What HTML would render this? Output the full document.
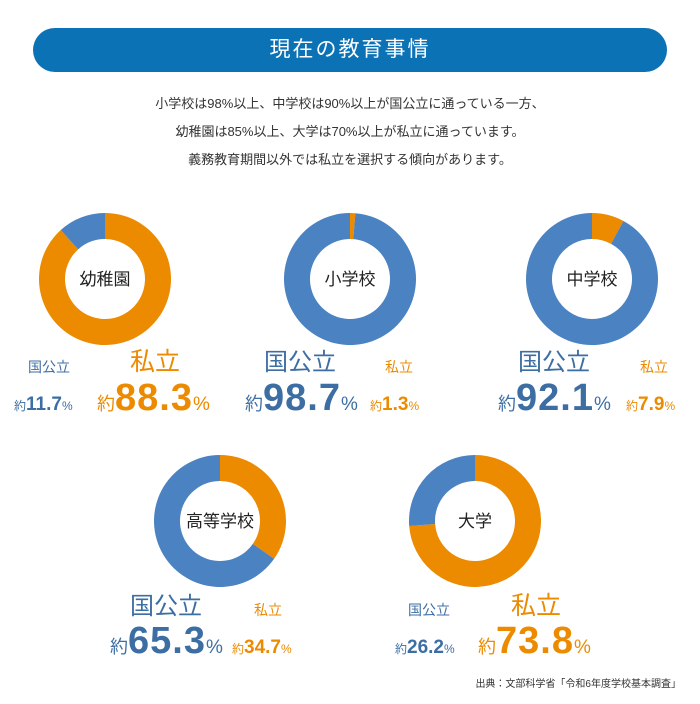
<!DOCTYPE html>
<html><head><meta charset="utf-8"><style>
html,body{margin:0;padding:0;background:#fff;}
body{width:700px;height:704px;position:relative;overflow:hidden;font-family:"Liberation Sans","Noto Sans CJK JP",sans-serif;}
#title{position:absolute;left:33px;top:28px;width:634px;height:44px;border-radius:22px;background:#0b72b5;color:#fff;font-size:21px;line-height:44px;text-align:center;letter-spacing:2px;}
#intro{position:absolute;left:0;top:90px;width:700px;text-align:center;font-size:13px;line-height:28px;color:#333;}
svg{position:absolute;left:0;top:0;}
</style></head><body>
<div id="title">現在の教育事情</div>
<div id="intro">小学校は98%以上、中学校は90%以上が国公立に通っている一方、<br>幼稚園は85%以上、大学は70%以上が私立に通っています。<br>義務教育期間以外では私立を選択する傾向があります。</div>
<svg id="chart" width="700" height="704"></svg>
<script>
const categories=["幼稚園","小学校","中学校","高等学校","大学"];
const publicShare=[11.7,98.7,92.1,65.3,26.2];
const privateShare=[88.3,1.3,7.9,34.7,73.8];
const centers=[[105,279],[350,279],[592,279],[220,521],[475,521]];
const BLUE="#4b82c1",ORANGE="#ec8a00",TBLUE="#3d6ea3";
const R=66,r=40;
const svg=document.getElementById('chart');
const NS="http://www.w3.org/2000/svg";
function pt(cx,cy,rad,frac){const a=frac*2*Math.PI;return [cx+rad*Math.sin(a),cy-rad*Math.cos(a)];}
function arc(cx,cy,f0,f1){
  const large=(f1-f0)>0.5?1:0;
  const [x0,y0]=pt(cx,cy,R,f0),[x1,y1]=pt(cx,cy,R,f1),[x2,y2]=pt(cx,cy,r,f1),[x3,y3]=pt(cx,cy,r,f0);
  return `M${x0},${y0}A${R},${R} 0 ${large} 1 ${x1},${y1}L${x2},${y2}A${r},${r} 0 ${large} 0 ${x3},${y3}Z`;
}
function txt(x,y,size,color,content,name,weight){
  const t=document.createElementNS(NS,'text');
  t.setAttribute('x',x);t.setAttribute('y',y);t.setAttribute('font-size',size);t.setAttribute('fill',color);
  if(weight)t.setAttribute('font-weight',weight);
  t.innerHTML=content;
  
  
  svg.appendChild(t);return t;
}
categories.forEach((c,i)=>{
  const [cx,cy]=centers[i];
  const fp=privateShare[i]/100;
  const p1=document.createElementNS(NS,'path');
  p1.setAttribute('d',arc(cx,cy,0,fp));p1.setAttribute('fill',ORANGE);
  
  
  svg.appendChild(p1);
  const p2=document.createElementNS(NS,'path');
  p2.setAttribute('d',arc(cx,cy,fp,1-1e-6));p2.setAttribute('fill',BLUE);
  
  
  svg.appendChild(p2);
  const t=txt(cx,cy+6,17,'#222',c,'center-label');
  t.setAttribute('text-anchor','middle');
});
// label blocks: [publicBig?] per chart with x positions
const layout=[
 {big:'private',lblPub:[28,372],lblPriv:[130,370],numPub:[14,410],numPriv:[97,410],row:0},
 {big:'public',lblPub:[264,370],lblPriv:[385,372],numPub:[245,410],numPriv:[370,410]},
 {big:'public',lblPub:[518,370],lblPriv:[640,372],numPub:[498,410],numPriv:[626,410]},
 {big:'public',lblPub:[130,614],lblPriv:[254,615],numPub:[110,653],numPriv:[232,653]},
 {big:'private',lblPub:[408,615],lblPriv:[511,614],numPub:[395,653],numPriv:[478,653]}
];
function num(x,y,val,color,big,name){
  const s=big?`<tspan font-size="18">約</tspan><tspan font-size="38" font-weight="bold" letter-spacing="1">${val.toFixed(1)}</tspan><tspan font-size="19">%</tspan>`
             :`<tspan font-size="12">約</tspan><tspan font-size="19" font-weight="bold">${val.toFixed(1)}</tspan><tspan font-size="12">%</tspan>`;
  txt(x,y,16,color,s,name);
}
layout.forEach((L,i)=>{
  const pb=L.big==='public';
  txt(L.lblPub[0],L.lblPub[1],pb?24:14,TBLUE,'国公立','label-public-'+i);
  txt(L.lblPriv[0],L.lblPriv[1],pb?14:25,ORANGE,'私立','label-private-'+i);
  num(L.numPub[0],L.numPub[1],publicShare[i],TBLUE,pb,'value-public-'+i);
  num(L.numPriv[0],L.numPriv[1],privateShare[i],ORANGE,!pb,'value-private-'+i);
});
const src=txt(681,687,10,'#333','出典：文部科学省「令和6年度学校基本調査」','source-note');
src.setAttribute('text-anchor','end');
</script>
</body></html>
